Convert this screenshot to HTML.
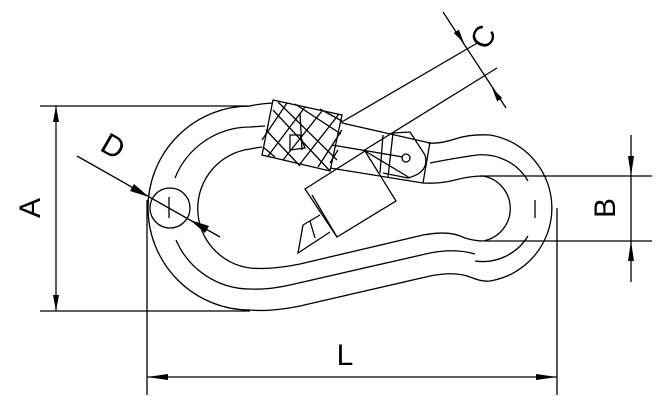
<!DOCTYPE html>
<html><head><style>
html,body{margin:0;padding:0;background:#fff;}
svg{display:block;}
text{font-family:"Liberation Sans",sans-serif;font-weight:normal;fill:#000;}
</style></head><body>
<svg width="662" height="408" viewBox="0 0 662 408" xmlns="http://www.w3.org/2000/svg">
<g fill="none" stroke="#000" stroke-width="1.3">
<line x1="40" y1="106" x2="250" y2="106"/>
<line x1="40" y1="311" x2="250" y2="311"/>
<line x1="56" y1="106" x2="56" y2="311"/>
<line x1="147" y1="200" x2="147" y2="395"/>
<line x1="557" y1="208" x2="557" y2="395"/>
<line x1="147" y1="377" x2="557" y2="377"/>
<line x1="480" y1="176" x2="652" y2="176"/>
<line x1="485" y1="241" x2="652" y2="241"/>
<line x1="631" y1="135" x2="631" y2="282"/>
<line x1="443" y1="12" x2="506" y2="108"/>
<line x1="340" y1="123" x2="479" y2="42"/>
<line x1="363" y1="151" x2="497" y2="68"/>
<line x1="77" y1="156" x2="220" y2="237"/>
<circle cx="170" cy="208" r="20"/>
<line x1="169" y1="197" x2="169" y2="218"/>

<path d="M273,103 Q258,104 250,106 A102,102 0 0 0 250,310 Q270,312 300,306 L430,276 Q455,271 470,277 Q482,282 490,281 A74,74 0 0 0 490,135 Q470,134 455,139 Q440,144 428,143"/>
<path d="M265,126 L250,127 A81,81 0 0 0 175,178"/>
<path d="M176,240 A81,81 0 0 0 250,289 Q268,290 290,285 L430,253 Q455,248 475,254"/>
<path d="M430,163 Q455,158 477,155 A53,53 0 0 1 528,181"/>
<path d="M535,200 L535,218"/>
<path d="M528,236 A53,53 0 0 1 475,261"/>
<path d="M262,147 Q255,148 250,149 A60,60 0 0 0 250,268 Q270,270 300,264 L423,235 Q450,230 465,238 Q475,241 483,241 A33,33 0 0 0 483,176 Q470,176 455,180 Q440,184 423,183"/>

<path d="M342,123 L430,143"/>
<path d="M332,145 L403,157"/>
<path d="M330,168 L423,183"/>
<path d="M383,135 L380,173 M393,133 L388,177"/>
<path d="M393,133 L410,132 L425,155 Q430,172 408,178 L383,173"/>
<path d="M430,142 L423,183"/>
<circle cx="406" cy="158" r="4"/>
<path d="M273,100 L342,115 L330,171 L262,155 Z"/>
<path d="M287,103 L262,140 M305,107 L268,156 M322,111 L283,160 M339,114 L300,164 M342,130 L318,167 M338,150 L330,163"/>
<path d="M273,110 L330,171 M278,102 L337,160 M295,104 L341,134 M320,109 L342,121 M266,130 L300,166 M263,147 L275,157"/>
<path d="M290,135 L300,135 L305,148 L290,150 Z M300,113 L302,150"/>
<path d="M305,189 L365,151 L396,201 L337,237 Z"/>
<path d="M312,195 L337,237"/>
<path d="M365,151 L410,178"/>
<path d="M303,225 L298,253 L330,232 M303,225 L320,215 M310,221 L315,238"/>
</g>
<g fill="#000">
<polygon points="56,106 53,122 59,122"/>
<polygon points="56,311 53,295 59,295"/>
<polygon points="147,377 168,374 168,380"/>
<polygon points="557,377 536,374 536,380"/>
<polygon points="631,176 628,156 634,156"/>
<polygon points="631,241 628,261 634,261"/>
<polygon points="464,43 458.8,29.6 453.8,33"/>
<polygon points="492,88 502.2,98 497.2,101.4"/>
<polygon points="149,197 130,191 134,184"/>
<polygon points="190,220 209,226 205,233"/>
</g>
<text x="0" y="0" font-size="30" transform="translate(40,208) rotate(-90)" text-anchor="middle">A</text>
<text x="0" y="0" font-size="30" transform="translate(615,208) rotate(-90)" text-anchor="middle">B</text>
<text x="0" y="0" font-size="30" transform="translate(492,42) rotate(-60)" text-anchor="middle">C</text>
<text x="0" y="0" font-size="30" transform="translate(108,155) rotate(30)" text-anchor="middle">D</text>
<text x="345" y="365" font-size="30" text-anchor="middle">L</text>
</svg>
</body></html>
